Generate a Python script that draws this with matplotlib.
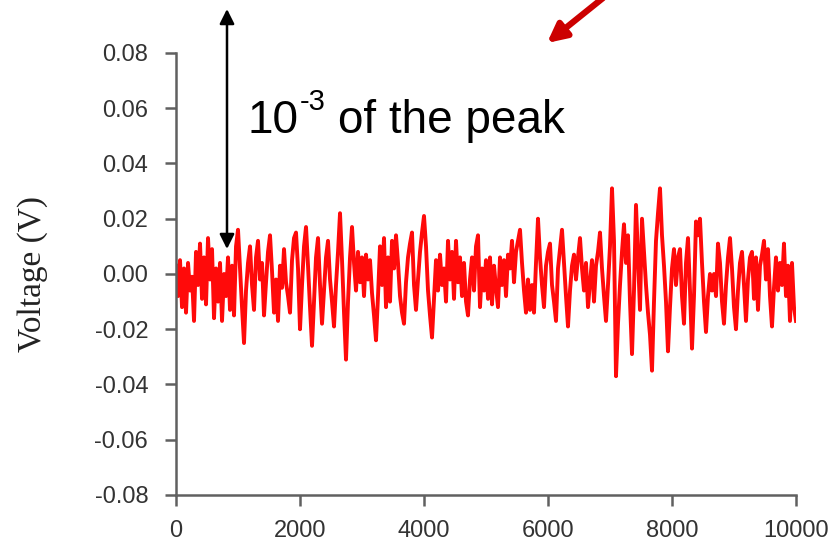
import numpy as np
import matplotlib
matplotlib.use('Agg')
from matplotlib import pyplot as plt

# noise trace, in mV, evenly spaced over 0..10000
voltage_mv = [
    3, -8, 5, -12, 2, -14, 4, -6, -1, -17,
    8, -4, 11, -9, 6, -11, 13, -2, 9, -16,
    2, -10, 4, -17, 0, -8, 6, -13, 3, -15,
    10, 16, 2, -12, -25, -6, 4, 10, -4, -13,
    6, 12, -2, 4, -15, -3, 8, 14, 1, -14,
    -2, -17, 3, -5, 9, -3, -8, -14, 5, 13,
    15, 2, -20, -4, 10, 17, 3, -12, -26, -10,
    6, 13, -4, -18, -6, 6, 12, -2, -10, -19,
    -4, 8, 22, 5, -14, -31, -10, 6, 17, 4,
    -6, 8, -3, 6, -8, 7, -2, 5, -7, -15,
    -24, -8, 10, -4, 13, -12, 6, -10, 12, 2,
    14, 4, -8, -14, -18, -3, 6, 11, 15, -4,
    -13, -2, 8, 15, 21, 10, -6, -15, -23, -9,
    5, -6, 7, -4, 2, -10, 12, -2, 8, -9,
    12, -3, 6, -8, 4, -10, -15, -2, 6, -6,
    10, 14, -12, 2, -6, 5, -9, 6, -11, 3,
    -5, -12, 6, -4, 5, -8, 7, 2, 12, -3,
    8, 12, 16, 4, -6, -14, -2, -13, -4, -14,
    4, 20, 6, -4, -12, 3, 8, 11, -4, -10,
    -17, 2, 9, 16, 4, -8, -19, -6, 3, 7,
    -2, 6, 13, 2, -6, 4, -12, -3, 5, -10,
    3, 8, 15, 2, -8, -17, -4, 10, 31, 12,
    -37, -18, -4, 8, 18, 4, 14, -10, -29, -6,
    25, 6, -13, 20, 8, -4, -14, -22, -35, -10,
    12, 22, 31, 14, 3, -10, -28, -12, 2, 9,
    -4, 6, 9, -8, -18, 4, 13, -6, -27, -8,
    19, 14, 20, 4, -10, -21, -8, 0, -6, 0,
    -8, 11, 4, -10, -18, -4, 6, 13, 2, -12,
    -20, -6, 4, 8, -4, -17, -2, 6, 8, -9,
    6, -13, 3, 7, 12, -2, 9, -8, -19, -5,
    6, -6, 4, -4, 11, -8, 3, -17, 4, -12,
    -17,
]
x_max = 10000
y_ticks = [-0.08, -0.06, -0.04, -0.02, 0.00, 0.02, 0.04, 0.06, 0.08]
x_ticks = [0, 2000, 4000, 6000, 8000, 10000]
note_base, note_exp, note_rest = '10', '-3', 'of the peak'

voltage = np.array(voltage_mv) / 1000.0
samples = np.linspace(0, x_max, len(voltage))

W, H = 837, 553
tick_font = ['Liberation Sans', 'DejaVu Sans']
axis_grey = '#606060'

fig = plt.figure(figsize=(W / 100, H / 100), dpi=100)
ax = fig.add_axes([0.2103, 0.1049, 0.7407, 0.7993])

ax.plot(samples, voltage, color='#ff0a0a', linewidth=2.8)

ax.set_xlim(0, x_max)
ax.set_ylim(-0.08, 0.08)
ax.set_xticks(x_ticks)
ax.set_yticks(y_ticks)
ax.set_xticklabels([str(t) for t in x_ticks])
ax.set_yticklabels(['%.2f' % t for t in y_ticks])

for side in ['top', 'right']:
    ax.spines[side].set_visible(False)
for side in ['left', 'bottom']:
    ax.spines[side].set_color(axis_grey)
    ax.spines[side].set_linewidth(1.8)

ax.tick_params(direction='out', length=8, width=1.8, color=axis_grey,
               labelcolor='#333333', labelsize=17)
ax.tick_params(axis='y', pad=12)
ax.tick_params(axis='x', pad=10)
for lab in ax.get_xticklabels() + ax.get_yticklabels():
    lab.set_family(tick_font)

ax.set_ylabel('Voltage (V)', family=['Liberation Serif', 'DejaVu Serif'],
              fontsize=24, color='#222222')
ax.yaxis.set_label_coords(-0.206, 0.5)

# black double arrow: noise level marker
ax.annotate('', xy=(227 / W, 1 - 249 / H), xytext=(227 / W, 1 - 9 / H),
            xycoords='figure fraction', textcoords='figure fraction',
            arrowprops=dict(arrowstyle='<|-|>', color='black', lw=1.8,
                            mutation_scale=22, shrinkA=0, shrinkB=0))

# "10^-3 of the peak" built from three texts so the exponent keeps a plain hyphen
fig.canvas.draw()
renderer = fig.canvas.get_renderer()
base_y = 1 - 133 / H
t1 = fig.text(248 / W, base_y, note_base, fontsize=33, color='black',
              family=tick_font, ha='left', va='baseline')
bb1 = t1.get_window_extent(renderer)
t2 = fig.text(bb1.x1 / W + 1 / W, base_y + 23 / H, note_exp, fontsize=21,
              color='black', family=tick_font, ha='left', va='baseline')
bb2 = t2.get_window_extent(renderer)
fig.text(bb2.x1 / W + 12 / W, base_y, note_rest, fontsize=33, color='black',
         family=tick_font, ha='left', va='baseline')

# red pointer arrow coming in from the top
ax.annotate('', xy=(547 / W, 1 - 43 / H), xytext=(603 / W, 1 + 2 / H),
            xycoords='figure fraction', textcoords='figure fraction',
            arrowprops=dict(arrowstyle='-|>', color='#cc0000', lw=4.5,
                            mutation_scale=28, shrinkA=0, shrinkB=0))

fig.savefig('out.png', dpi=100)
